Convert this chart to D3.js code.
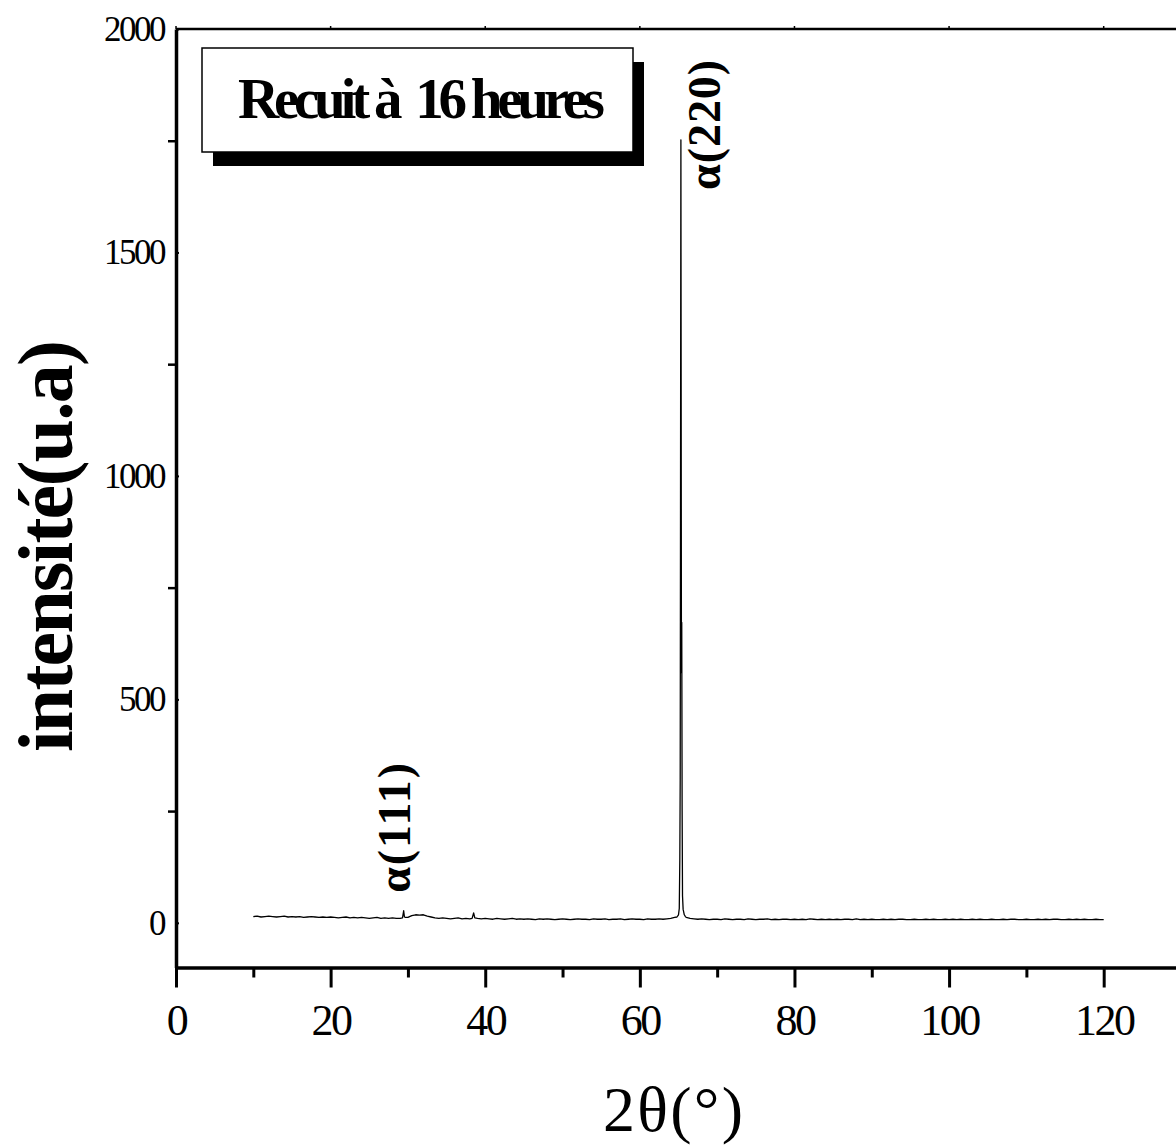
<!DOCTYPE html>
<html>
<head>
<meta charset="utf-8">
<script src="https://cdn.jsdelivr.net/npm/d3@7"></script>
<style>
  html, body { margin: 0; padding: 0; background: #fff; }
  svg { display: block; }
  text { font-family: "Liberation Serif", "Times New Roman", serif; fill: #000; }
</style>
</head>
<body>
<svg id="chart" width="1176" height="1147"></svg>
<script>
// ---- Data ----
const xMajorTicks = [0, 20, 40, 60, 80, 100, 120];
const xMinorTicks = [10, 30, 50, 70, 90, 110, 130];
const yMajorTicks = [0, 500, 1000, 1500, 2000];
const yMinorTicks = [250, 750, 1250, 1750];

// baseline scan: start angle, step, and intensities every 0.5°
const scanStart = 10;
const scanStep = 0.5;
const scanCounts = [
  14,15,13,14,15,14,13,14,15,13,   // 10.0 - 14.5
  14,13,14,12,13,14,13,12,13,12,   // 15.0 - 19.5
  13,12,11,12,13,11,12,11,12,11,   // 20.0 - 24.5
  10,11,12,10,11,10,11,10,10,11,   // 25.0 - 29.5
  12,16,18,17,18,15,13,11,10,11,   // 30.0 - 34.5
  10,9,10,11,9,10,9,10,10,9,       // 35.0 - 39.5
  10,9,8,10,9,8,9,10,8,9,          // 40.0 - 44.5
  8,9,8,7,9,8,9,8,7,8,             // 45.0 - 49.5
  9,8,7,8,9,8,8,7,9,8,             // 50.0 - 54.5
  8,9,7,8,8,9,7,8,9,8,             // 55.0 - 59.5
  8,7,9,8,8,9,8,9,10,12,           // 60.0 - 64.5
  20,15,12,10,9,8,9,8,7,8,         // 65.0 - 69.5
  8,7,9,8,7,8,8,7,9,8,             // 70.0 - 74.5
  7,8,8,9,7,8,7,8,8,7,             // 75.0 - 79.5
  8,7,8,7,9,8,7,8,7,8,             // 80.0 - 84.5
  7,8,7,8,8,7,9,7,8,7,             // 85.0 - 89.5
  8,7,7,8,7,8,7,8,8,7,             // 90.0 - 94.5
  7,8,7,7,8,7,8,7,7,8,             // 95.0 - 99.5
  7,8,7,8,7,7,8,7,8,7,             // 100.0 - 104.5
  7,8,7,7,8,7,8,8,7,7,             // 105.0 - 109.5
  8,7,7,8,7,8,7,8,8,7,             // 110.0 - 114.5
  7,8,7,8,7,8,7,7,8,7,             // 115.0 - 119.5
  7                                // 120.0
];

// detailed peak profiles (replace the coarse scan inside their range)
const peak111Angles = [29.3, 29.45, 29.55, 29.7];
const peak111Counts = [11, 27, 13, 12];
const peak38Angles = [38.3, 38.5, 38.65];
const peak38Counts = [10, 22, 11];
const peak220Angles = [64.8, 65.0, 65.1, 65.17, 65.22, 65.26, 65.31, 65.36, 65.38, 65.42, 65.47, 65.52, 65.6, 65.75, 65.9];
const peak220Counts = [13, 18, 32, 140, 320, 900, 1752, 900, 560, 672, 250, 60, 30, 18, 14];

// annotations
const chartTitle = "Recuit à  16 heures";
const xTitle = "2θ(°)";
const yTitle = "intensité(u.a)";
const peakLabels = [
  { text: "α(220)", angle: 70.35, count: 1640 },
  { text: "α(111)", angle: 30.25, count: 67 }
];

// ---- Build the series ----
const peakGroups = [
  [peak111Angles, peak111Counts],
  [peak38Angles, peak38Counts],
  [peak220Angles, peak220Counts]
];
let points = scanCounts.map((c, i) => ({ a: scanStart + i * scanStep, c }));
peakGroups.forEach(([as]) => {
  const lo = d3.min(as), hi = d3.max(as);
  points = points.filter(p => !(p.a > lo && p.a < hi));
});
peakGroups.forEach(([as, cs]) => as.forEach((a, i) => points.push({ a, c: cs[i] })));
points.sort((p, q) => p.a - q.a);

// ---- Layout ----
const svg = d3.select("#chart");
const pLeft = 176, pRight = 1181, pTop = 29, pBottom = 967.5;
const x = d3.scaleLinear().domain([0, 130]).range([pLeft, pRight]);
const y = d3.scaleLinear().domain([-100, 2000]).range([pBottom, pTop]);

// top and right frame
svg.append("line").attr("x1", pLeft).attr("x2", pRight).attr("y1", pTop).attr("y2", pTop)
  .attr("stroke", "#000").attr("stroke-width", 2.5);
svg.append("line").attr("x1", pRight).attr("x2", pRight).attr("y1", pTop).attr("y2", pBottom)
  .attr("stroke", "#000").attr("stroke-width", 2.5);
// tiny top ticks
svg.append("g").selectAll("line").data(xMajorTicks).join("line")
  .attr("x1", d => x(d)).attr("x2", d => x(d)).attr("y1", pTop).attr("y2", pTop - 3)
  .attr("stroke", "#000").attr("stroke-width", 1.5);

// x axis minor
const gxMinor = svg.append("g").attr("transform", `translate(0,${pBottom})`)
  .call(d3.axisBottom(x).tickValues(xMinorTicks).tickSize(10).tickFormat(""));
gxMinor.select(".domain").remove();
gxMinor.selectAll(".tick line").attr("stroke-width", 3);

// x axis major
const gx = svg.append("g").attr("transform", `translate(0,${pBottom})`)
  .call(d3.axisBottom(x).tickValues(xMajorTicks).tickSize(20).tickSizeOuter(0)
    .tickPadding(16).tickFormat(d3.format("d")));
gx.select(".domain").attr("stroke-width", 3.5);
gx.selectAll(".tick line").attr("stroke-width", 3);
gx.selectAll(".tick text")
  .attr("font-family", "Liberation Serif, serif")
  .attr("font-size", 44)
  .style("letter-spacing", "-2.5px");

// y axis minor
const gyMinor = svg.append("g").attr("transform", `translate(${pLeft},0)`)
  .call(d3.axisLeft(y).tickValues(yMinorTicks).tickSize(8).tickFormat(""));
gyMinor.select(".domain").remove();
gyMinor.selectAll(".tick line").attr("stroke-width", 2.5);

// y axis major (ticks inside, very short)
const gy = svg.append("g").attr("transform", `translate(${pLeft},0)`)
  .call(d3.axisLeft(y).tickValues(yMajorTicks).tickSize(-3).tickSizeOuter(0)
    .tickPadding(12).tickFormat(d3.format("d")));
gy.select(".domain").attr("stroke-width", 3.5);
gy.selectAll(".tick line").attr("stroke-width", 2);
gy.selectAll(".tick text")
  .attr("font-family", "Liberation Serif, serif")
  .attr("font-size", 35)
  .style("letter-spacing", "-2.5px");

// data line
const line = d3.line().x(d => x(d.a)).y(d => y(d.c));
svg.append("path").datum(points)
  .attr("d", line).attr("fill", "none").attr("stroke", "#000").attr("stroke-width", 1.3)
  .attr("stroke-linejoin", "round");

// title box with shadow
svg.append("rect").attr("x", 213).attr("y", 62).attr("width", 431).attr("height", 104).attr("fill", "#000");
svg.append("rect").attr("x", 202).attr("y", 48).attr("width", 431).attr("height", 104)
  .attr("fill", "#fff").attr("stroke", "#000").attr("stroke-width", 1.5);
svg.append("text").attr("x", 238).attr("y", 118)
  .attr("font-size", 57).attr("font-weight", "bold")
  .style("white-space", "pre")
  .attr("textLength", 367).attr("lengthAdjust", "spacing")
  .text(chartTitle);

// peak labels (rotated)
peakLabels.forEach(p => {
  svg.append("text")
    .attr("transform", `translate(${x(p.angle)},${y(p.count)}) rotate(-90)`)
    .attr("text-anchor", "start")
    .attr("font-size", 46).attr("font-weight", "bold")
    .attr("textLength", 130).attr("lengthAdjust", "spacing")
    .text(p.text);
});

// axis titles
svg.append("text").attr("x", 673).attr("y", 1131)
  .attr("text-anchor", "middle").attr("font-size", 64)
  .attr("textLength", 140).attr("lengthAdjust", "spacing")
  .text(xTitle);
svg.append("text").attr("transform", "translate(72,546) rotate(-90)")
  .attr("text-anchor", "middle").attr("font-size", 78).attr("font-weight", "bold")
  .attr("textLength", 412).attr("lengthAdjust", "spacing")
  .text(yTitle);
</script>
</body>
</html>
